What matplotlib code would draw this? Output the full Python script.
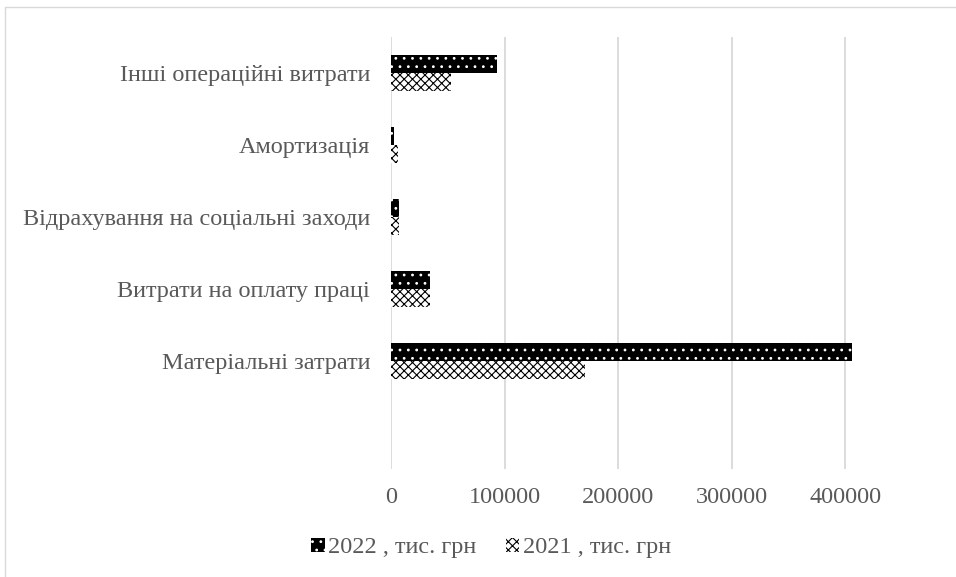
import numpy as np
import matplotlib
matplotlib.use("Agg")
import matplotlib.pyplot as plt
from matplotlib.patches import Rectangle, Patch

# data, bottom to top as drawn
categories = [
    "Матеріальні затрати",
    "Витрати на оплату праці",
    "Відрахування на соціальні заходи",
    "Амортизація",
    "Інші операційні витрати",
]
values_2022 = [406000, 34700, 7000, 2900, 93200]
values_2021 = [171000, 34500, 7000, 6400, 52600]
series_labels = ["2022 , тис. грн", "2021 , тис. грн"]
x_ticks = [0, 100000, 200000, 300000, 400000]

TEXT = "#595959"
GRID = "#d9d9d9"
FS = 17.5

plt.rcParams["font.family"] = ["Liberation Serif", "DejaVu Serif"]
plt.rcParams["hatch.linewidth"] = 0.8

fig = plt.figure(figsize=(9.56, 5.77), dpi=100)
ax = fig.add_axes([0.409, 0.187, 0.594, 0.749])

# first slot stays empty, like the source chart
pos = np.arange(1, len(categories) + 1)
h = 0.25
ax.barh(pos + h / 2, values_2022, height=h, color="black",
        edgecolor="white", linewidth=0, hatch="..", zorder=3)
ax.barh(pos - h / 2, values_2021, height=h, color="white",
        edgecolor="black", linewidth=0, hatch="xxxx", zorder=3)

ax.set_xlim(0, 500000)
ax.set_ylim(-0.5, len(categories) + 0.5)
ax.set_xticks(x_ticks)
ax.set_xticklabels([str(v) for v in x_ticks])
ax.set_yticks(pos)
ax.set_yticklabels(categories)
ax.grid(axis="x", color=GRID, linewidth=1.3, zorder=0)
for s in ax.spines.values():
    s.set_visible(False)
ax.tick_params(axis="both", length=0, labelsize=FS, colors=TEXT)
ax.tick_params(axis="x", pad=13)
ax.tick_params(axis="y", pad=15)

handles = [
    Patch(facecolor="black", edgecolor="white", linewidth=0, hatch=".."),
    Patch(facecolor="white", edgecolor="black", linewidth=0, hatch="xxxx"),
]
leg = fig.legend(handles, series_labels, loc="center", ncol=2,
                 bbox_to_anchor=(491 / 956, 1 - 548 / 577), frameon=False,
                 fontsize=FS, handlelength=0.55, handleheight=0.55,
                 handletextpad=0.15, columnspacing=1.2)
for t in leg.get_texts():
    t.set_color(TEXT)

# chart area border (cropped on the right and bottom)
fig.patches.append(Rectangle((5 / 956, -0.2), 1.2, 1.2 - 7 / 577,
                             transform=fig.transFigure, fill=False,
                             edgecolor=GRID, linewidth=1.0))

fig.savefig("out.png", dpi=100)
